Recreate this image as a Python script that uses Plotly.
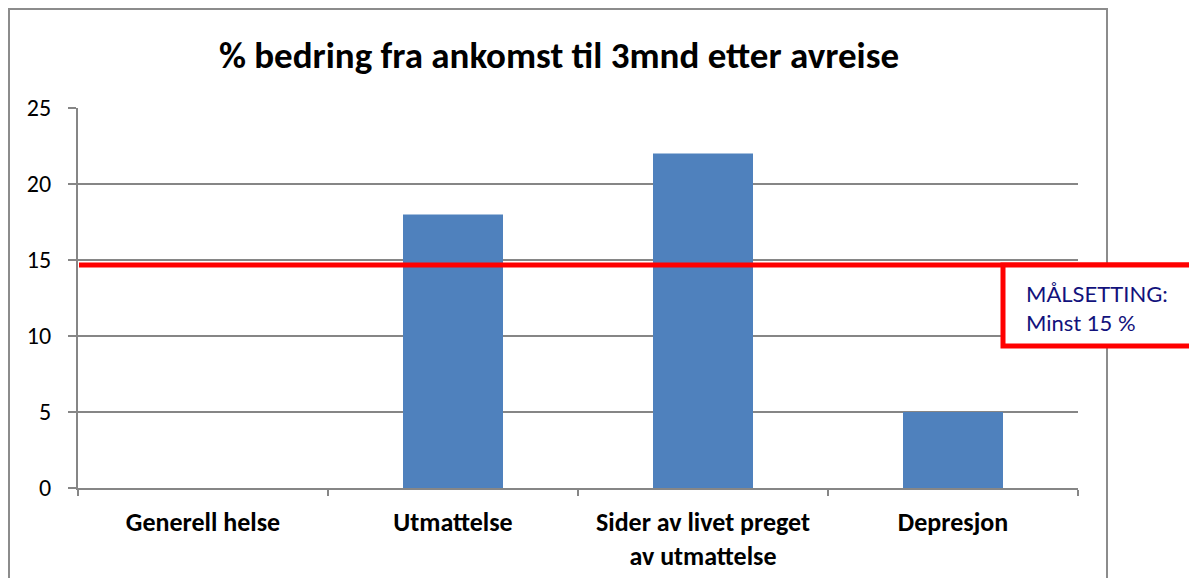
import plotly.graph_objects as go

categories = ["Generell helse", "Utmattelse", "Sider av livet preget<br>av utmattelse", "Depresjon"]
values = [0, 18, 22, 5]
target_value = 14.67
y_ticks = [0, 5, 10, 15, 20, 25]
title_text = "% bedring fra ankomst til 3mnd etter avreise"
box_lines = ["MÅLSETTING:", "Minst 15 %"]

W, H = 1189, 578
L, R, T, B = 78, 111, 108, 90
PW, PH = W - L - R, H - T - B

fig = go.Figure()
fig.add_trace(go.Bar(
    x=categories, y=values,
    marker=dict(color="#4F81BD", line=dict(width=0)),
    width=0.4,
))

font_main = "Carlito, Calibri, Lato, sans-serif"

fig.update_layout(
    width=W, height=H,
    margin=dict(l=L, r=R, t=T, b=B),
    paper_bgcolor="white", plot_bgcolor="white",
    showlegend=False,
    font=dict(family=font_main, color="black"),
    title=dict(text=f"<b>{title_text}</b>", x=559 / W, xanchor="center",
               y=1 - 55 / H, yanchor="middle",
               font=dict(size=37, family=font_main, color="black")),
    xaxis=dict(
        showgrid=False, showline=True, linecolor="#868686", linewidth=2,
        ticks="outside", tickson="boundaries", ticklen=6, tickcolor="#868686", tickwidth=2,
        tickfont=dict(size=26, family=font_main, color="black"),
        tickprefix="<b>", ticksuffix="</b>",
        range=[-0.5, 3.5],
        ticklabelstandoff=10,
        automargin=False,
    ),
    yaxis=dict(
        range=[0, 25], tickvals=y_ticks,
        showgrid=True, gridcolor="#868686", gridwidth=2,
        showline=True, linecolor="#868686", linewidth=2,
        ticks="outside", ticklen=8, tickcolor="#868686", tickwidth=2,
        tickfont=dict(size=24, family=font_main, color="black"),
        zeroline=False,
        ticklabelstandoff=12,
        automargin=False,
    ),
)

# outer chart border
fig.add_shape(type="rect", xref="paper", yref="paper",
              x0=(9 - L) / PW, x1=(1107 - L) / PW,
              y0=(H - B - 620) / PH, y1=(H - B - 9) / PH,
              line=dict(color="#8C8C8C", width=2), fillcolor="rgba(0,0,0,0)", layer="below")

# target line
fig.add_shape(type="line", xref="paper", yref="y",
              x0=1 / PW, x1=(1200 - L) / PW, y0=target_value, y1=target_value,
              line=dict(color="#FF0000", width=5), layer="above")

# target box
fig.add_shape(type="rect", xref="paper", yref="paper",
              x0=(1003 - L) / PW, x1=(1210 - L) / PW,
              y0=(H - B - 346) / PH, y1=(H - B - 265) / PH,
              line=dict(color="#FF0000", width=5), fillcolor="white", layer="above")

fig.add_annotation(xref="paper", yref="paper",
                   x=(1024 - L) / PW, y=(H - B - 308) / PH,
                   xanchor="left", yanchor="middle", align="left", showarrow=False,
                   text="<br>".join(box_lines),
                   font=dict(size=22, family="Lato, sans-serif", color="#12127C"))

fig.write_html("out.html",
               config={"displayModeBar": False},
               post_script="document.body.style.margin='0';document.body.style.overflow='hidden';")
